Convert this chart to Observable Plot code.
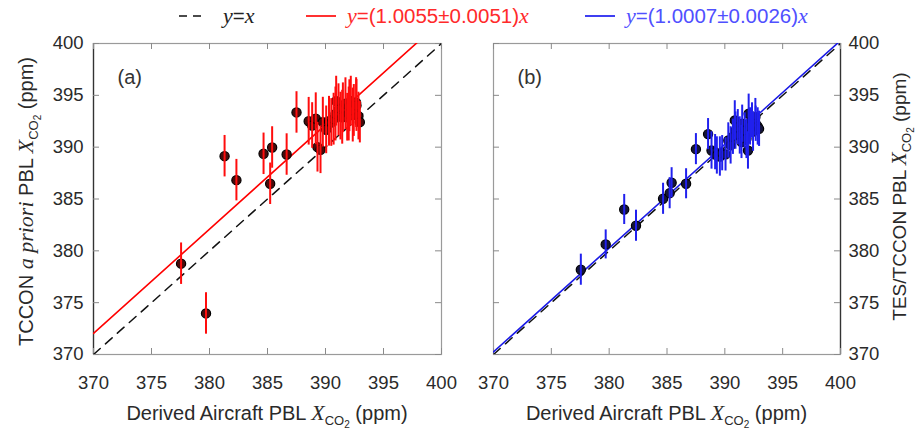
<!DOCTYPE html>
<html><head><meta charset="utf-8">
<script src="https://cdn.jsdelivr.net/npm/d3@7"></script>
<script src="https://cdn.jsdelivr.net/npm/@observablehq/plot@0.6"></script>
<style>
body{margin:0;background:#fff;font-family:"Liberation Sans",Arial,sans-serif;}
#wrap{position:relative;width:917px;height:432px;overflow:hidden;background:#fff;}
#legend{position:absolute;left:0;top:0;width:917px;height:34px;}
.li{position:absolute;top:4px;font-size:20.5px;line-height:24px;white-space:nowrap;}
.li i{font-family:"Liberation Serif","DejaVu Serif",serif;font-style:italic;font-size:22px;}
.sw{position:absolute;top:4px;}
#pa{position:absolute;left:0;top:34px;}
#pb{position:absolute;left:465px;top:34px;}
</style></head>
<body>
<div id="wrap">
  <div id="legend">
    <svg class="sw" style="left:178px" width="28" height="24"><line x1="1" y1="12" x2="27" y2="12" stroke="#111" stroke-width="1.6" stroke-dasharray="8,6"/></svg>
    <div class="li" style="left:223px;color:#222"><i>y</i>=<i>x</i></div>
    <svg class="sw" style="left:305px" width="32" height="24"><line x1="1" y1="12" x2="31" y2="12" stroke="#ff1a1a" stroke-width="1.8"/></svg>
    <div class="li" style="left:347px;color:#ff2a2a"><i>y</i>=(1.0055±0.0051)<i>x</i></div>
    <svg class="sw" style="left:584px" width="32" height="24"><line x1="1" y1="12" x2="31" y2="12" stroke="#2a2af0" stroke-width="1.8"/></svg>
    <div class="li" style="left:626px;color:#5050ff"><i>y</i>=(1.0007±0.0026)<i>x</i></div>
  </div>
  <div id="pa"></div>
  <div id="pb"></div>
</div>
<script>
// ---- data ----
const xTicks = [370, 375, 380, 385, 390, 395, 400];
const yTicks = [370, 375, 380, 385, 390, 395, 400];
const aircraftX = [377.55, 379.70, 381.30, 382.32, 384.66, 385.23, 385.40, 386.65, 387.50, 388.55, 388.85, 389.16,
  389.31, 389.57, 389.77, 390.06, 390.30, 390.50, 390.70, 390.86, 390.92, 391.12, 391.29, 391.44,
  391.50, 391.72, 391.87, 392.00, 392.06, 392.18, 392.35, 392.44, 392.64, 392.67, 392.84, 392.96];
const aprioriY = [378.76, 373.96, 389.13, 386.82, 389.36, 386.47, 389.97, 389.29, 393.35, 392.50, 392.09, 392.74,
  390.00, 389.75, 392.41, 391.67, 392.50, 392.38, 392.70, 393.20, 394.44, 393.61, 393.00, 392.89,
  393.80, 394.19, 392.89, 393.20, 394.00, 394.44, 393.10, 393.54, 394.30, 394.02, 393.00, 392.41];
const aprioriErr = [2.0, 2.0, 2.0, 2.0, 2.0, 2.0, 2.0, 2.0, 2.0, 2.3, 2.2, 2.5,
  2.4, 2.3, 2.4, 2.3, 2.4, 2.3, 2.5, 2.6, 2.4, 2.5, 2.3, 2.6,
  2.4, 2.5, 2.3, 2.6, 2.5, 2.4, 2.6, 2.5, 2.4, 2.5, 2.3, 2.0];
const tesY = [378.18, 380.62, 383.99, 382.42, 385.02, 385.56, 386.57, 386.47, 389.81, 391.26, 389.68, 389.52,
  389.20, 389.10, 389.42, 389.30, 390.65, 390.17, 391.00, 392.58, 391.60, 391.93, 391.13, 390.50,
  392.26, 391.61, 390.80, 389.68, 393.22, 392.00, 392.58, 391.50, 392.90, 392.26, 392.00, 391.77];
const tesErr = [1.5, 1.4, 1.45, 1.5, 1.5, 1.5, 1.45, 1.45, 1.5, 1.5, 1.8, 1.7,
  1.8, 1.9, 1.7, 1.6, 1.7, 1.8, 1.7, 1.9, 1.8, 1.7, 1.8, 1.6,
  1.8, 1.7, 1.9, 1.8, 1.9, 1.8, 1.7, 1.9, 1.8, 1.7, 1.8, 1.7];
const slopeA = 1.0055;
const slopeB = 1.0007;
const lineX = [370, 400];

const dataA = aircraftX.map((x, i) => ({x, y: aprioriY[i], e: aprioriErr[i]}));
const dataB = aircraftX.map((x, i) => ({x, y: tesY[i], e: tesErr[i]}));

const H = 396, mt = 9, mb = 76, innerH = H - mt - mb;
const FONT = "'Liberation Sans', Arial, sans-serif";

function panel({width, ml, mr, data, slope, fitColor, errColor, dotFill, tag, yAnchor}) {
  const innerW = width - ml - mr;
  const axisSide = yAnchor === "left" ? 370 : 400;
  return Plot.plot({
    width, height: H, marginLeft: ml, marginRight: mr, marginTop: mt, marginBottom: mb,
    x: {domain: [370, 400], label: null},
    y: {domain: [370, 400], label: null},
    style: {fontFamily: FONT, fontSize: "18px", color: "#2a2a2a", background: "white", overflow: "visible"},
    marks: [
      Plot.frame({stroke: "#9a9a9a", strokeWidth: 1.2}),
      Plot.ruleX([axisSide], {stroke: "#333", strokeWidth: 1.3}),
      Plot.tickX(xTicks, {x: d => d, insetTop: innerH - 6, stroke: "#8a8a8a"}),
      Plot.tickX(xTicks, {x: d => d, insetBottom: innerH - 6, stroke: "#8a8a8a"}),
      Plot.tickY(yTicks, {y: d => d, insetLeft: innerW - 6, stroke: "#8a8a8a"}),
      Plot.tickY(yTicks, {y: d => d, insetRight: innerW - 6, stroke: "#8a8a8a"}),
      Plot.axisX(xTicks, {tickSize: 0, tickPadding: 21, label: null, fontSize: 18.5}),
      Plot.axisY(yTicks, {anchor: yAnchor, tickSize: 0, tickPadding: yAnchor === "left" ? 10 : 8, label: null, fontSize: 18.5}),
      Plot.line(lineX, {x: d => d, y: d => d, stroke: "#111", strokeWidth: 1.5, strokeDasharray: "9,7", clip: true}),
      Plot.line(lineX, {x: d => d, y: d => d * slope, stroke: fitColor, strokeWidth: 1.6, clip: true}),
      Plot.dot(data, {x: "x", y: "y", r: 4.6, fill: dotFill, stroke: "#000", strokeWidth: 1.2}),
      Plot.ruleX(data, {x: "x", y1: d => d.y - d.e, y2: d => d.y + d.e, stroke: errColor, strokeWidth: 2}),
      Plot.text([tag], {frameAnchor: "top-left", dx: 24, dy: 34, textAnchor: "start", lineAnchor: "middle", fontSize: 20, fill: "#333"})
    ]
  });
}

const pa = panel({width: 465, ml: 93, mr: 24, data: dataA, slope: slopeA, fitColor: "#ff0000", errColor: "#ff0d0d", dotFill: "#4a0c0c", tag: "(a)", yAnchor: "left"});
const pb = panel({width: 452, ml: 28, mr: 77, data: dataB, slope: slopeB, fitColor: "#1a1ae6", errColor: "#2020ee", dotFill: "#14143a", tag: "(b)", yAnchor: "right"});
document.getElementById("pa").append(pa);
document.getElementById("pb").append(pb);

function xco2(sel, big) {
  sel.append("tspan").attr("font-family", "'Liberation Serif', serif").attr("font-style", "italic").attr("font-size", big).text("X");
  sel.append("tspan").attr("font-size", 13).attr("dy", 5).text("CO");
  sel.append("tspan").attr("font-size", 10).attr("dy", 3).text("2");
  sel.append("tspan").attr("dy", -8).text(" (ppm)");
}
function xTitle(svg, cx) {
  const t = d3.select(svg).append("text").attr("x", cx).attr("y", 386).attr("text-anchor", "middle")
    .attr("font-family", FONT).attr("font-size", 20).attr("fill", "#2a2a2a");
  t.append("tspan").text("Derived Aircraft PBL ");
  xco2(t, 22);
}
xTitle(pa, 93 + (465 - 93 - 24) / 2);
xTitle(pb, 28 + (452 - 28 - 77) / 2);

// y titles
{
  const t = d3.select(pa).append("text").attr("transform", `translate(33,${mt + innerH / 2 + 3}) rotate(-90)`)
    .attr("text-anchor", "middle").attr("font-family", FONT).attr("font-size", 20).attr("fill", "#2a2a2a");
  t.append("tspan").text("TCCON ");
  t.append("tspan").attr("font-family", "'Liberation Serif', serif").attr("font-style", "italic").attr("font-size", 22).text("a priori");
  t.append("tspan").text(" PBL ");
  xco2(t, 22);
}
{
  const t = d3.select(pb).append("text").attr("transform", `translate(441,${mt + innerH / 2 - 2}) rotate(-90)`)
    .attr("text-anchor", "middle").attr("font-family", FONT).attr("font-size", 19).attr("fill", "#2a2a2a");
  t.append("tspan").text("TES/TCCON PBL ");
  xco2(t, 21);
}
</script>
</body></html>
